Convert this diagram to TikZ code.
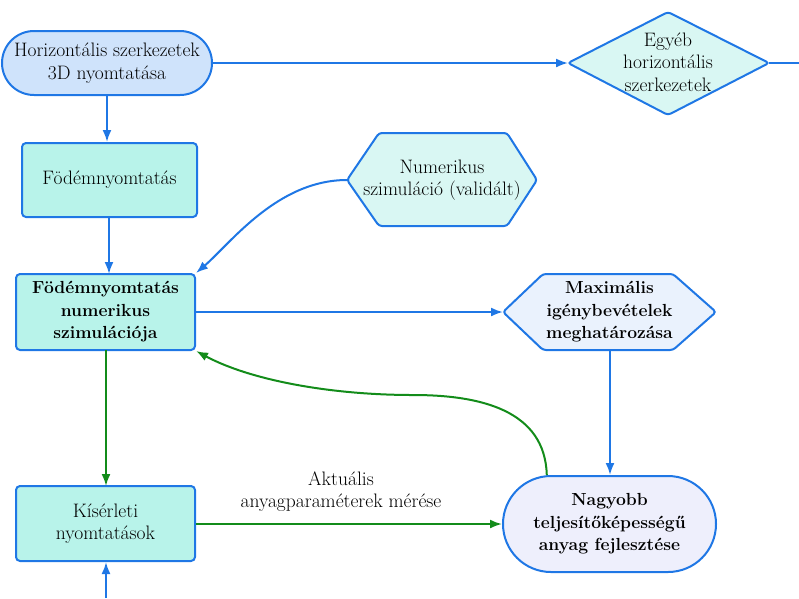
\documentclass[tikz,border=0pt]{standalone}
\usepackage{fontspec}
\usetikzlibrary{arrows.meta,shapes.geometric,calc}
\definecolor{bl}{HTML}{1F77E5}
\definecolor{gr}{HTML}{138C1A}
\definecolor{fA}{HTML}{CFE3FB}
\definecolor{fCy}{HTML}{D9F7F3}
\definecolor{fT}{HTML}{B8F3EA}
\definecolor{fMx}{HTML}{EAF2FD}
\definecolor{fNg}{HTML}{EEEFFC}
\tikzset{
  box/.style={draw=bl, line width=2pt, rounded corners=4pt, align=center, inner sep=2pt},
  stad/.style={box},
  hexa/.style={draw=bl, line width=2pt, rounded corners=3pt},
  lbl/.style={align=center, inner sep=0pt},
  barrow/.style={draw=bl, line width=2pt, -{Latex[length=12pt,width=9pt]}},
  garrow/.style={draw=gr, line width=2pt, -{Latex[length=12pt,width=9pt]}},
  bline/.style={draw=bl, line width=2pt},
  bf/.style={font=\fontsize{17.5}{22.5}\selectfont\bfseries},
}
\begin{document}
\begin{tikzpicture}[x=1pt,y=-1pt,font=\fontsize{19.5}{22.5}\selectfont]
\useasboundingbox (0,0) rectangle (799,598);

% nodes
\node[stad, fill=fA, minimum width=210pt, minimum height=64pt, rounded corners=32pt] (A) at (107,63)
  {Horizontális szerkezetek\\3D nyomtatása};
\node[box, fill=fT, minimum width=175pt, minimum height=74pt] (F1) at (109.5,180)
  {Födémnyomtatás};
\node[box, fill=fT, minimum width=179pt, minimum height=76pt, bf] (F2) at (105.5,312)
  {Födémnyomtatás\\numerikus\\szimulációja};
\node[box, fill=fT, minimum width=179pt, minimum height=75pt] (K) at (105.5,523.5)
  {Kísérleti\\nyomtatások};
\node[stad, fill=fNg, minimum width=213pt, minimum height=96pt, rounded corners=48pt, bf] (Ng) at (609.5,524)
  {Nagyobb\\teljesítőképességű\\anyag fejlesztése};

% diamond: Egyéb horizontális szerkezetek
\draw[hexa, fill=fCy] (568,63) -- (668,12) -- (769,63) -- (668,115) -- cycle;
\node[lbl] (D) at (668,62) {Egyéb\\horizontális\\szerkezetek};
\coordinate (Dw) at (568,63);
\coordinate (De) at (769,63);

% hexagon: Numerikus szimuláció
\draw[hexa, fill=fCy] (347,180) -- (379,133) -- (507,133) -- (537,180) -- (507,226) -- (379,226) -- cycle;
\node[lbl] (N) at (442,180) {Numerikus\\szimuláció (validált)};
\coordinate (Nw) at (347,180);

% hexagon: Maximális
\draw[hexa, fill=fMx] (503,312) -- (543,274) -- (673,274) -- (716,312) -- (673,350) -- (543,350) -- cycle;
\node[lbl, bf] (M) at (609.5,312) {Maximális\\igénybevételek\\meghatározása};
\coordinate (Mw) at (503,312);
\coordinate (Ms) at (610,350);

% free ends
\coordinate (Eright) at (799,63);
\coordinate (Ebot) at (106,598);
\coordinate (Gmid) at (413,395);

% connectors
\draw[barrow] (A.east) -- (Dw);
\draw[bline] (De) -- (Eright);
\draw[barrow] (A.south) -- (A.south |- F1.north);
\draw[barrow] (109,217) -- (109,274);
\draw[barrow] (Nw) .. controls (277,180) and (230,244) .. (F2.north east);
\draw[barrow] (F2.east) -- (Mw);
\draw[barrow] (Ms) -- (Ms |- Ng.north);
\draw[garrow] (106,350) -- (106,486);
\draw[barrow] (Ebot) -- (K.south -| Ebot);
\draw[garrow] (K.east |- Ng.west) -- node[above=8pt, xshift=-8pt, align=center] {Aktuális\\anyagparaméterek mérése} (Ng.west);
\draw[garrow] (Ng.142) .. controls (545,410) and (480,395) .. (Gmid)
  .. controls (330,395) and (250,380) .. (F2.south east);
\end{tikzpicture}
\end{document}
